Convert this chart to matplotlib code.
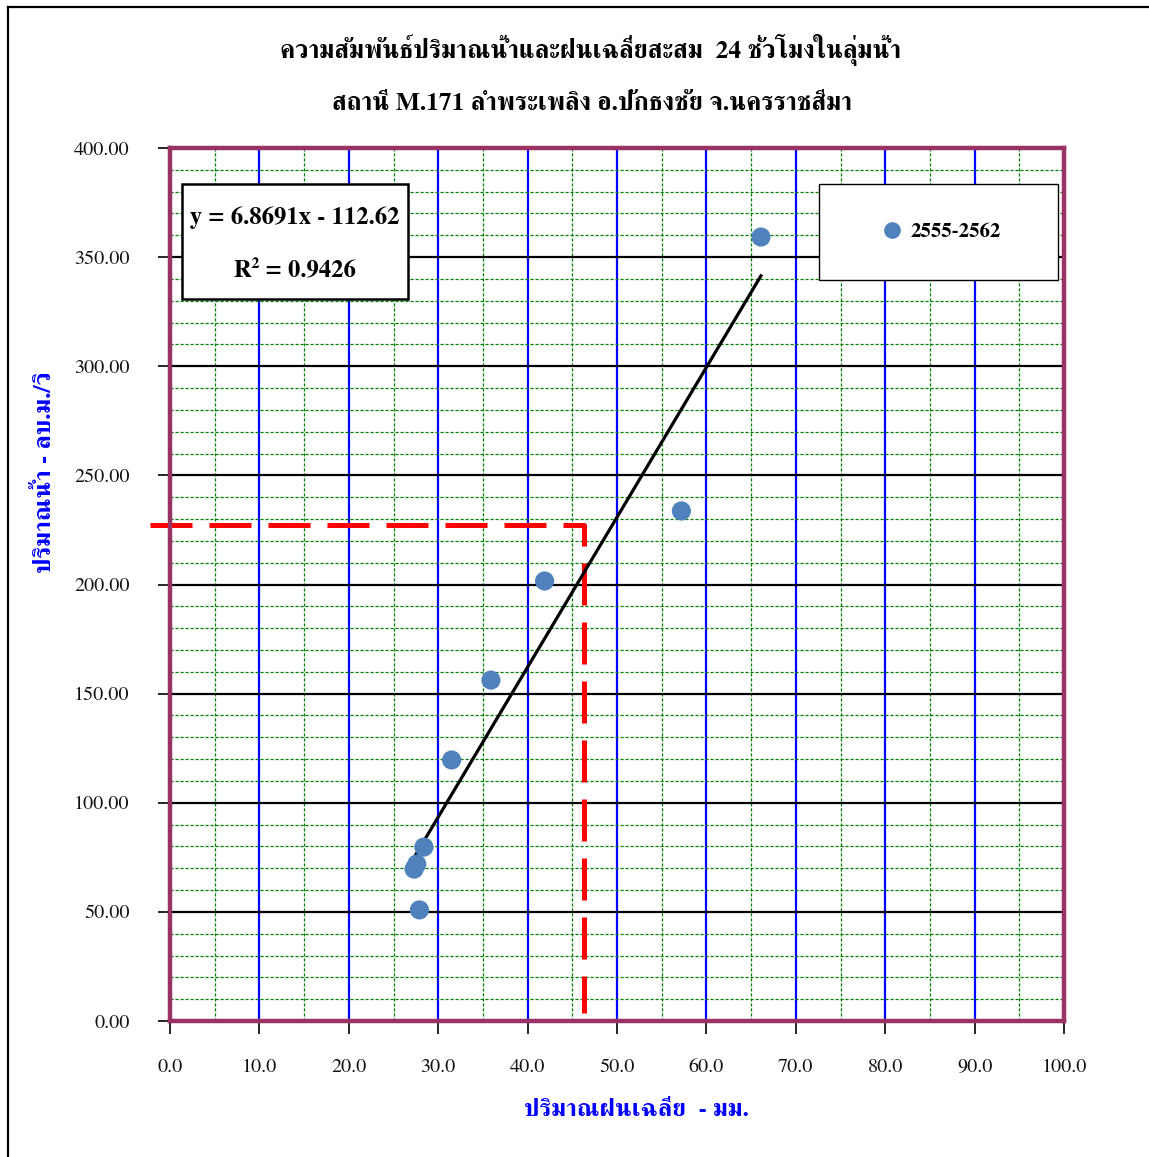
import matplotlib
matplotlib.use("Agg")
import matplotlib.pyplot as plt
from matplotlib.patches import Rectangle
from matplotlib.lines import Line2D
import numpy as np

# ---- data ----
rain_mm = [66.1, 57.2, 41.9, 35.9, 31.5, 28.4, 27.6, 27.3, 27.9]
flow_cms = [359.2, 233.7, 201.6, 156.2, 119.6, 79.7, 71.9, 69.6, 50.9]
slope = 6.8691
intercept = -112.62
r2 = 0.9426
series_label = "2555-2562"
ref_rain = 46.3
ref_flow = 227.3
ref_x_start = -2.2
ref_y_end = 3.5
x_ticks = [0, 10, 20, 30, 40, 50, 60, 70, 80, 90, 100]
y_ticks = [0, 50, 100, 150, 200, 250, 300, 350, 400]

title1 = "ความสัมพันธ์ปริมาณน้ำและฝนเฉลี่ยสะสม  24 ชั่วโมงในลุ่มน้ำ"
title2 = "สถานี M.171 ลำพระเพลิง อ.ปักธงชัย จ.นครราชสีมา"
xlabel = "ปริมาณฝนเฉลี่ย  - มม."
ylabel = "ปริมาณน้ำ - ลบ.ม./วิ"

plt.rcParams['font.family'] = ['FreeSerif', 'DejaVu Serif']

W, H = 1149, 1157
fig = plt.figure(figsize=(W / 100, H / 100), dpi=100)
ax = fig.add_axes([170 / W, 1 - 1021 / H, (1064 - 170) / W, (1021 - 148) / H])

ax.set_xlim(0, 100)
ax.set_ylim(0, 400)

# grid
ax.set_xticks(x_ticks)
ax.set_yticks(y_ticks)
ax.set_xticks(np.arange(5, 100, 10), minor=True)
ax.set_yticks([v for v in range(10, 400, 10) if v % 50 != 0], minor=True)
ax.grid(True, which='minor', color='#008000', linestyle=(0, (2.5, 1.5)), linewidth=0.9, zorder=0)
ax.xaxis.grid(True, which='major', color='#0000FF', linewidth=1.6, linestyle='-')
ax.yaxis.grid(True, which='major', color='black', linewidth=1.6, linestyle='-')
ax.set_axisbelow(True)
ax.tick_params(which='minor', length=0)
ax.tick_params(axis='y', which='major', direction='out', length=9, width=1.2, color='black',
               labelsize=14.5, pad=20)
ax.tick_params(axis='x', which='major', direction='out', length=9, width=1.2, color='black',
               labelsize=14.5, pad=18)
ax.set_xticklabels([f"{v:.1f}" for v in x_ticks])
ax.set_yticklabels([f"{v:.2f}" for v in y_ticks])
for lab in ax.get_xticklabels() + ax.get_yticklabels():
    lab.set_color('#111111')

for s in ax.spines.values():
    s.set_color('#993366')
    s.set_linewidth(3.2)
    s.set_zorder(5)

# red reference lines
ax.plot([ref_x_start, ref_rain, ref_rain], [ref_flow, ref_flow, ref_y_end],
        color='#FF0000', linewidth=3.6, linestyle=(0, (8.4, 3.4)),
        solid_capstyle='butt', dash_capstyle='butt', clip_on=False, zorder=3)

# trend line
xs = np.array([min(rain_mm), max(rain_mm)])
ax.plot(xs, slope * xs + intercept, color='black', linewidth=2.3, zorder=4)

# points
ax.scatter(rain_mm, flow_cms, s=190, color='#4F81BD', edgecolors='none', zorder=6,
           label=series_label)

# equation box
ax.add_patch(Rectangle((0.0134, 0.827), 0.2528, 0.132, transform=ax.transAxes,
                       facecolor='white', edgecolor='black', linewidth=1.8, zorder=7))
ax.text(0.1398, 0.920, f"y = {slope:.4f}x - {abs(intercept):.2f}", transform=ax.transAxes,
        ha='center', va='center', fontsize=17.7, fontweight='bold', zorder=8)
ax.text(0.1398, 0.859, f"R² = {r2:.4f}", transform=ax.transAxes,
        ha='center', va='center', fontsize=17.7, fontweight='bold', zorder=8)

# legend box
ax.add_patch(Rectangle((0.726, 0.849), 0.267, 0.110, transform=ax.transAxes,
                       facecolor='white', edgecolor='black', linewidth=1.0, zorder=7))
handle = Line2D([], [], marker='o', linestyle='none', markersize=12,
                markerfacecolor='#4F81BD', markeredgecolor='none')
leg = ax.legend([handle], [series_label], loc='center', bbox_to_anchor=(0.862, 0.904),
                frameon=False, handletextpad=0.3, handlelength=1.2,
                prop={'weight': 'bold', 'size': 15})
leg.set_zorder(9)

# titles and labels
fig.text(591 / W, 1 - 50 / H, title1, ha='center', va='center', fontsize=18.4, fontweight='bold')
fig.text(592 / W, 1 - 104 / H, title2, ha='center', va='center', fontsize=18.4, fontweight='bold')
fig.text(636 / W, 1 - 1110 / H, xlabel, ha='center', va='center', fontsize=18,
         fontweight='bold', color='#0000FF')
fig.text(45 / W, 1 - 472 / H, ylabel, ha='center', va='center', fontsize=18,
         fontweight='bold', color='#0000FF', rotation=90)

# outer frame (top and left edges)
fig.add_artist(Line2D([8 / W, 1.0], [1 - 7 / H, 1 - 7 / H], transform=fig.transFigure,
                      color='black', linewidth=1.6))
fig.add_artist(Line2D([8 / W, 8 / W], [1 - 7 / H, 0.0], transform=fig.transFigure,
                      color='black', linewidth=1.6))

fig.savefig("out.png", dpi=100)
